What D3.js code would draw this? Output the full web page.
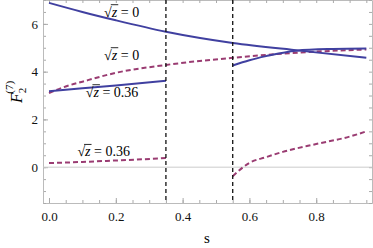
<!DOCTYPE html>
<html>
<head>
<meta charset="utf-8">
<script src="https://cdn.jsdelivr.net/npm/d3@7"></script>
<style>
  body { margin: 0; background: #fff; }
</style>
</head>
<body>
<svg id="chart" width="373" height="248"></svg>
<script>
// values
var xTicks = [0.0, 0.2, 0.4, 0.6, 0.8];
var yTicks = [0, 2, 4, 6];
var cuts = [0.35, 0.55];

var upperSolidS = [0, 0.1, 0.2, 0.35, 0.55, 0.75, 0.95];
var upperSolidV = [6.88, 6.5, 6.15, 5.67, 5.2, 4.88, 4.58];

var upperDashS = [0, 0.05, 0.1, 0.2, 0.35, 0.55, 0.75, 0.95];
var upperDashV = [3.1, 3.38, 3.58, 3.95, 4.28, 4.58, 4.8, 4.93];

var lowSolidLeftS = [0, 0.1, 0.2, 0.35];
var lowSolidLeftV = [3.18, 3.3, 3.42, 3.62];
var lowSolidRightS = [0.55, 0.6, 0.65, 0.74, 0.85, 0.95];
var lowSolidRightV = [4.26, 4.48, 4.65, 4.88, 4.95, 4.97];

var lowDashLeftS = [0, 0.1, 0.2, 0.35];
var lowDashLeftV = [0.17, 0.22, 0.28, 0.38];
var lowDashRightS = [0.55, 0.6, 0.65, 0.7, 0.8, 0.9, 0.95];
var lowDashRightV = [-0.38, 0.18, 0.42, 0.64, 0.97, 1.28, 1.5];

var labels = [
  {s: 0.165, v: 6.3, t: "0"},
  {s: 0.165, v: 4.5, t: "0"},
  {s: 0.11, v: 2.95, t: "0.36"},
  {s: 0.085, v: 0.45, t: "0.36"}
];

var blue = "#4040a0", purple = "#9a3c72";
var serif = "'Liberation Serif', 'Times New Roman', Times, serif";

var svg = d3.select("#chart");
var margin = {left: 43, right: 1, top: 0, bottom: 45};
var width = 373 - margin.left - margin.right,
    height = 248 - margin.top - margin.bottom;

var x = d3.scaleLinear().domain([-0.018, 0.967]).range([0, width]);
var y = d3.scaleLinear().domain([-1.5, 7.0]).range([height, 0]);

var g = svg.append("g")
    .attr("transform", "translate(" + margin.left + "," + margin.top + ")");

// frame with ticks on all sides
function styleAxis(sel) {
  sel.attr("font-family", null);
  sel.selectAll("path").attr("stroke", "#bbb");
  sel.selectAll("line").attr("stroke", "#aaa");
  sel.selectAll("text").attr("fill", "#111").style("font-size", "13px");
}
var xMinor = d3.range(0, 0.96, 0.05);
var yMinor = d3.range(-1.5, 7.01, 0.5);

g.append("g").attr("transform", "translate(0," + height + ")")
  .call(d3.axisBottom(x).tickValues(xMinor).tickSize(-3).tickFormat("").tickSizeOuter(0))
  .call(styleAxis);
g.append("g").attr("transform", "translate(0," + height + ")")
  .call(d3.axisBottom(x).tickValues(xTicks).tickSize(-5).tickPadding(9).tickFormat(d3.format(".1f")).tickSizeOuter(0))
  .call(styleAxis);
g.append("g")
  .call(d3.axisTop(x).tickValues(xMinor).tickSize(-3).tickFormat("").tickSizeOuter(0))
  .call(styleAxis);
g.append("g")
  .call(d3.axisLeft(y).tickValues(yMinor).tickSize(-3).tickFormat("").tickSizeOuter(0))
  .call(styleAxis);
g.append("g")
  .call(d3.axisLeft(y).tickValues(yTicks).tickSize(-5).tickPadding(5).tickFormat(d3.format("d")).tickSizeOuter(0))
  .call(styleAxis);
g.append("g").attr("transform", "translate(" + width + ",0)")
  .call(d3.axisRight(y).tickValues(yMinor).tickSize(-3).tickFormat("").tickSizeOuter(0))
  .call(styleAxis);

// zero line
g.append("line")
  .attr("x1", 0).attr("x2", width)
  .attr("y1", y(0)).attr("y2", y(0))
  .attr("stroke", "#ccc").attr("stroke-width", 1);

var line = d3.line()
  .x(function(d) { return x(d[0]); })
  .y(function(d) { return y(d[1]); })
  .curve(d3.curveMonotoneX);

function draw(ss, vs, color, dashed) {
  g.append("path")
    .datum(d3.zip(ss, vs))
    .attr("d", line)
    .attr("fill", "none")
    .attr("stroke", color)
    .attr("stroke-width", 2)
    .attr("stroke-dasharray", dashed ? "5,3" : null);
}

draw(upperDashS, upperDashV, purple, true);
draw(lowDashLeftS, lowDashLeftV, purple, true);
draw(lowDashRightS, lowDashRightV, purple, true);
draw(upperSolidS, upperSolidV, blue, false);
draw(lowSolidLeftS, lowSolidLeftV, blue, false);
draw(lowSolidRightS, lowSolidRightV, blue, false);

// vertical dashed cuts
g.selectAll(".cut").data(cuts).enter().append("line")
  .attr("x1", function(d) { return x(d); }).attr("x2", function(d) { return x(d); })
  .attr("y1", 0).attr("y2", height)
  .attr("stroke", "#111").attr("stroke-width", 1.3)
  .attr("stroke-dasharray", "4,3");

// sqrt(z) = value labels
labels.forEach(function(l) {
  var t = g.append("text")
    .attr("x", x(l.s)).attr("y", y(l.v))
    .style("font-family", serif)
    .style("font-size", "14px");
  t.append("tspan").text("\u221A");
  t.append("tspan").style("font-style", "italic").text("z");
  t.append("tspan").text(" = " + l.t);
  var sq = t.node().getSubStringLength(0, 1);
  var zw = t.node().getSubStringLength(1, 1);
  g.append("line")
    .attr("x1", x(l.s) + sq - 1).attr("x2", x(l.s) + sq + zw + 1)
    .attr("y1", y(l.v) - 12).attr("y2", y(l.v) - 12)
    .attr("stroke", "#111").attr("stroke-width", 0.9);
});

// axis titles
svg.append("text")
  .attr("x", 207).attr("y", 243)
  .attr("text-anchor", "middle")
  .style("font-size", "15px")
  .text("s");

var yl = svg.append("text")
  .attr("transform", "translate(22,92) rotate(-90)")
  .attr("text-anchor", "middle")
  .style("font-size", "16px");
yl.append("tspan").style("font-style", "italic").text("F");
yl.append("tspan").attr("dy", 4).style("font-size", "11px").text("2");
yl.append("tspan").attr("dx", -6).attr("dy", -13).style("font-size", "11px").text("(7)");

svg.selectAll("text").style("font-family", serif);
</script>
</body>
</html>
